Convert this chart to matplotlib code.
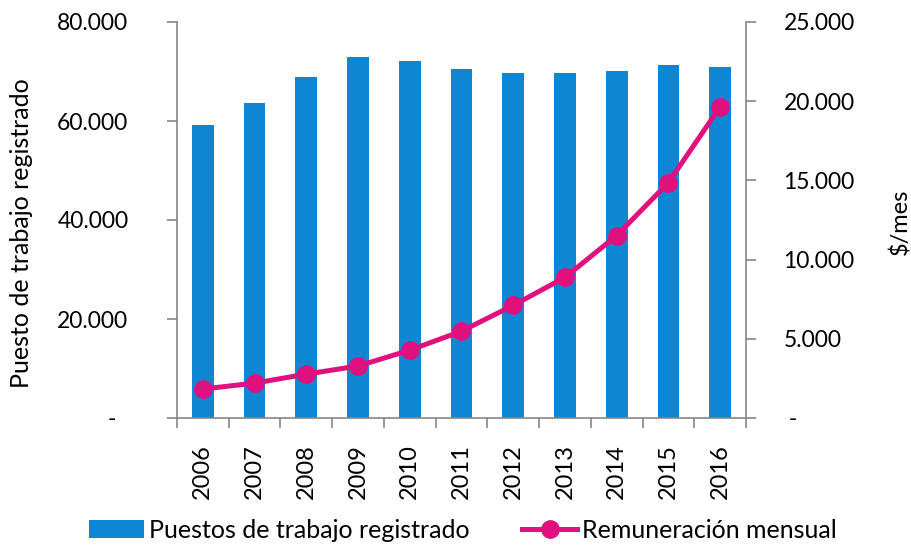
import matplotlib
matplotlib.use("Agg")
import matplotlib.pyplot as plt
from matplotlib.ticker import FuncFormatter, FixedLocator
import numpy as np

years = ["2006", "2007", "2008", "2009", "2010", "2011", "2012", "2013", "2014", "2015", "2016"]
puestos = [59200, 63600, 68900, 72900, 72100, 70500, 69700, 69700, 70100, 71300, 70900]
remuneracion = [1830, 2200, 2770, 3280, 4280, 5480, 7110, 8880, 11520, 14860, 19650]

bar_label = "Puestos de trabajo registrado"
line_label = "Remuneración mensual"
left_ylabel = "Puesto de trabajo registrado"
right_ylabel = "$/mes"

plt.rcParams['font.family'] = ['Lato', 'DejaVu Sans']
bar_color = "#0E86D4"
line_color = "#E0107E"
axis_color = "#868686"

fig = plt.figure(figsize=(9.12, 5.45), dpi=100)
ax = fig.add_axes([177/912, 1-418/545, (746-177)/912, (418-22)/545])
ax2 = ax.twinx()

x = np.arange(len(years))
ax.bar(x, puestos, width=0.42, color=bar_color, zorder=2, label=bar_label)
ax2.plot(x, remuneracion, color=line_color, lw=3.6, marker='o', markersize=12.5,
         zorder=3, label=line_label)

ax.set_xlim(-0.5, len(years)-0.5)
ax.set_ylim(0, 80000)
ax2.set_ylim(0, 25000)

def fmt(v, pos, pad=""):
    if abs(v) < 1e-9:
        return pad
    return f"{int(round(v)):,}".replace(",", ".")

ax.yaxis.set_major_locator(FixedLocator([0, 20000, 40000, 60000, 80000]))
ax.yaxis.set_major_formatter(FuncFormatter(lambda v, p: fmt(v, p, "-  ")))
ax2.yaxis.set_major_locator(FixedLocator([0, 5000, 10000, 15000, 20000, 25000]))
ax2.yaxis.set_major_formatter(FuncFormatter(lambda v, p: fmt(v, p, " -")))

ax.set_xticks(x)
ax.set_xticklabels(years, rotation=90, fontsize=17)
ax.tick_params(axis='x', length=0, pad=19)
ax.set_xticks(np.arange(-0.5, len(years)), minor=True)
ax.tick_params(axis='x', which='minor', length=7, color=axis_color, width=1.2)

ax.tick_params(axis='y', length=7, color=axis_color, width=1.2, labelsize=16.5, pad=28)
ax2.tick_params(axis='y', length=7, color=axis_color, width=1.2, labelsize=16.5, pad=20)
for t in ax2.get_yticklabels():
    t.set_horizontalalignment('left')

for a in (ax, ax2):
    a.spines['top'].set_visible(False)
    for s in ('left', 'right', 'bottom'):
        a.spines[s].set_color(axis_color)
        a.spines[s].set_linewidth(1.2)
ax2.spines['bottom'].set_visible(False)
ax.spines['right'].set_visible(False)
ax2.spines['left'].set_visible(False)

fig.text(22/912, 1-233/545, left_ylabel, rotation=90, ha='center', va='center', fontsize=18)
fig.text(900/912, 1-222/545, right_ylabel, rotation=90, ha='center', va='center', fontsize=17)

h1, l1 = ax.get_legend_handles_labels()
h2, l2 = ax2.get_legend_handles_labels()
fig.legend(h1 + h2, l1 + l2, loc='center', bbox_to_anchor=(463/912, 1-530/545), ncol=2,
           frameon=False, fontsize=18, handlelength=2.2, handletextpad=0.2,
           columnspacing=2.1, handleheight=0.7, borderpad=0, borderaxespad=0)

fig.savefig("out.png", dpi=100)
